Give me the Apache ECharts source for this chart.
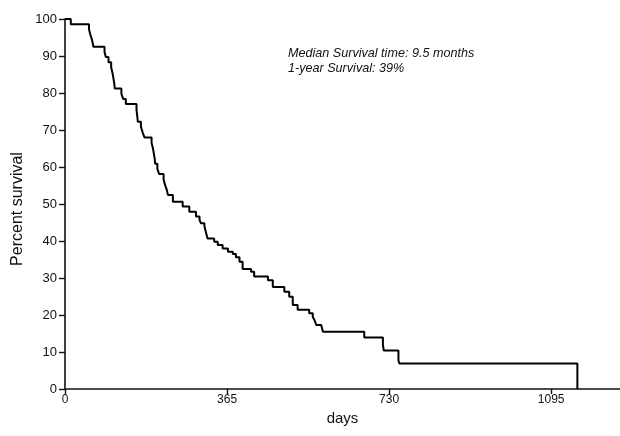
<!DOCTYPE html>
<html>
<head>
<meta charset="utf-8">
<script src="https://cdn.jsdelivr.net/npm/echarts@6/dist/echarts.min.js"></script>
<style>html,body{margin:0;padding:0;background:#fff}#c{width:620px;height:436px}</style>
</head>
<body>
<div id="c"></div>
<script>
// Event times (days) and survival (%) after each event
var days = [0,13,54,57,61,64,89,92,98,104,107,109,111,112,127,131,137,161,163,164,171,175,179,195,198,200,202,203,208,212,222,225,229,232,243,265,280,295,303,306,314,318,321,336,344,355,367,378,385,393,400,419,426,457,468,494,505,513,524,550,558,562,566,577,581,674,716,718,751,753,1154];
var survival = [100,98.6,97.2,95.8,94.3,92.5,91.1,89.7,88.3,86.9,85.4,84.0,82.6,81.2,79.8,78.4,77.0,75.5,73.5,72.2,70.9,69.3,68.0,66.5,65.1,63.7,62.3,60.9,59.5,58.1,56.7,55.3,53.9,52.4,50.6,49.3,47.9,46.6,45.7,44.8,44.0,42.1,40.7,39.8,38.9,38.0,37.1,36.5,35.6,34.4,32.4,31.7,30.4,29.4,27.6,26.3,24.9,22.7,21.4,20.5,19.5,18.6,17.3,16.8,15.5,13.9,11.9,10.4,7.8,6.9,0];
var xTicks = [0,365,730,1095];
var yTicks = [0,10,20,30,40,50,60,70,80,90,100];
var noteLines = ['Median Survival time: 9.5 months','1-year Survival: 39%'];
var xTitle = 'days';
var yTitle = 'Percent survival';

var pts = days.map(function(d,i){return [d, survival[i]];});
var font = 'Liberation Sans, Arial, sans-serif';
var chart = echarts.init(document.getElementById('c'), null, {renderer:'canvas'});
chart.setOption({
  animation:false,
  backgroundColor:'#fff',
  grid:{left:65,right:0,top:19,bottom:47,containLabel:false},
  xAxis:{
    type:'value',min:0,max:1250,
    name:xTitle,nameLocation:'middle',nameGap:17,
    nameTextStyle:{fontFamily:font,fontSize:15,color:'#111'},
    axisLine:{show:true,onZero:false,lineStyle:{color:'#111',width:1.6}},
    axisTick:{show:true,inside:false,length:5,customValues:xTicks,lineStyle:{color:'#111',width:1.4}},
    axisLabel:{customValues:xTicks,fontFamily:font,fontSize:12,color:'#111',margin:5,
      formatter:function(v){return String(v);}},
    splitLine:{show:false}
  },
  yAxis:{
    type:'value',min:0,max:100,interval:10,
    axisLine:{show:true,lineStyle:{color:'#111',width:1.6}},
    axisTick:{show:true,inside:false,length:6,lineStyle:{color:'#111',width:1.4}},
    axisLabel:{fontFamily:font,fontSize:13,color:'#111',margin:8},
    splitLine:{show:false}
  },
  graphic:[{
    type:'text',left:288,top:46,
    style:{text:noteLines.join('\n'),font:'italic 12.6px '+font,fill:'#111',lineHeight:15}
  },{
    type:'text',x:18,y:209,rotation:Math.PI/2,
    style:{text:yTitle,font:'16px '+font,fill:'#111',align:'center',verticalAlign:'middle'}
  }],
  series:[{
    type:'line',step:'end',data:pts,symbol:'none',
    lineStyle:{color:'#000',width:2},
    clip:false
  }]
});
</script>
</body>
</html>
